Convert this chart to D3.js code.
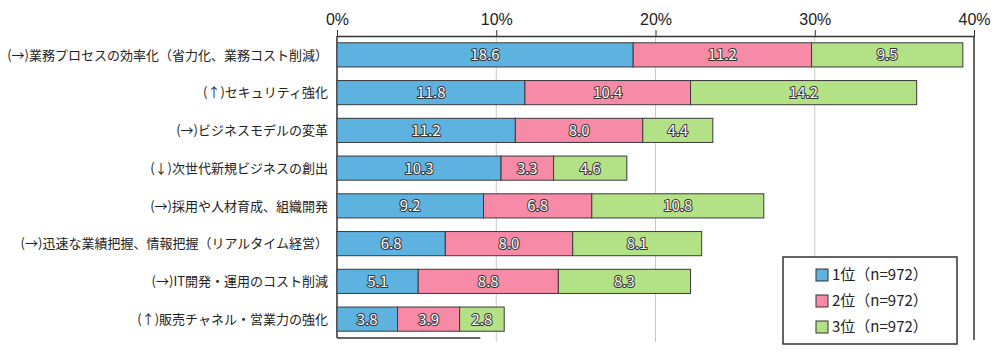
<!DOCTYPE html>
<html>
<head>
<meta charset="utf-8">
<script src="https://cdn.jsdelivr.net/npm/d3@7"></script>
<style>
  body { margin: 0; background: #fff; }
  svg { font-family: "Noto Sans CJK JP", "Noto Sans", sans-serif; }
</style>
</head>
<body>
<svg id="chart"></svg>
<script>
// data
const categories = [
  "(→)業務プロセスの効率化（省力化、業務コスト削減）",
  "(↑)セキュリティ強化",
  "(→)ビジネスモデルの変革",
  "(↓)次世代新規ビジネスの創出",
  "(→)採用や人材育成、組織開発",
  "(→)迅速な業績把握、情報把握（リアルタイム経営）",
  "(→)IT開発・運用のコスト削減",
  "(↑)販売チャネル・営業力の強化"
];
const rank1 = [18.6, 11.8, 11.2, 10.3, 9.2, 6.8, 5.1, 3.8];
const rank2 = [11.2, 10.4, 8.0, 3.3, 6.8, 8.0, 8.8, 3.9];
const rank3 = [9.5, 14.2, 4.4, 4.6, 10.8, 8.1, 8.3, 2.8];
const seriesNames = ["1位（n=972）", "2位（n=972）", "3位（n=972）"];
const tickValues = [0, 10, 20, 30, 40];

const colors = ["#5eb2e0", "#f78aa6", "#b3e186"];

const width = 1000, height = 354;
const margin = { top: 36, right: 26, bottom: 12, left: 337 };
const innerW = width - margin.left - margin.right;
const innerH = height - margin.top - margin.bottom;

const svg = d3.select("#chart")
  .attr("width", width)
  .attr("height", height);

const g = svg.append("g")
  .attr("transform", `translate(${margin.left},${margin.top})`);

const x = d3.scaleLinear().domain([0, 40]).range([0, innerW]);
const y = d3.scaleBand().domain(categories).range([0, 302]).paddingInner(0.36).paddingOuter(0.18);

// stacked data
const table = categories.map((c, i) => ({ cat: c, r1: rank1[i], r2: rank2[i], r3: rank3[i] }));
const stack = d3.stack().keys(["r1", "r2", "r3"])(table);

// gridlines
g.selectAll(".grid")
  .data([10, 20, 30])
  .enter().append("line")
  .attr("x1", d => x(d)).attr("x2", d => x(d))
  .attr("y1", 0).attr("y2", innerH)
  .attr("stroke", "#c8c8c8")
  .attr("stroke-width", 1);

// top axis
const axis = g.append("g")
  .call(d3.axisTop(x).tickValues(tickValues).tickFormat(d => d + "%").tickSize(6).tickSizeOuter(0));
axis.select(".domain").attr("stroke", "#333").attr("stroke-width", 1.5);
axis.selectAll(".tick line").attr("stroke", "#333");
axis.selectAll(".tick text")
  .attr("font-size", 16)
  .attr("fill", "#222")
  .attr("dy", "-0.15em");

// left and right border, short bottom line
g.append("line").attr("x1", 0).attr("x2", 0).attr("y1", 0).attr("y2", innerH - 4)
  .attr("stroke", "#333").attr("stroke-width", 1.5);
g.append("line").attr("x1", x(40)).attr("x2", x(40)).attr("y1", 0).attr("y2", innerH - 2)
  .attr("stroke", "#333").attr("stroke-width", 1.5);
g.append("line").attr("x1", 0).attr("x2", x(9)).attr("y1", innerH - 4).attr("y2", innerH - 4)
  .attr("stroke", "#333").attr("stroke-width", 1.5);

// bars
const layers = g.selectAll(".layer")
  .data(stack)
  .enter().append("g")
  .attr("fill", (d, i) => colors[i]);

layers.selectAll("rect")
  .data(d => d)
  .enter().append("rect")
  .attr("x", d => x(d[0]))
  .attr("y", d => y(d.data.cat))
  .attr("width", d => x(d[1]) - x(d[0]))
  .attr("height", y.bandwidth())
  .attr("stroke", "#3a3a3a")
  .attr("stroke-width", 1);

// value labels (white with dark outline)
layers.selectAll(".val")
  .data(d => d)
  .enter().append("text")
  .attr("x", d => (x(d[0]) + x(d[1])) / 2)
  .attr("y", d => y(d.data.cat) + y.bandwidth() / 2)
  .attr("dy", "0.36em")
  .attr("text-anchor", "middle")
  .attr("font-size", 15)
  .attr("fill", "#fff")
  .attr("stroke", "#333")
  .attr("stroke-width", 2)
  .attr("paint-order", "stroke")
  .attr("stroke-linejoin", "round")
  .text(d => (d[1] - d[0]).toFixed(1));

// category labels
g.selectAll(".cat")
  .data(categories)
  .enter().append("text")
  .attr("x", -9)
  .attr("y", d => y(d) + y.bandwidth() / 2)
  .attr("dy", "0.36em")
  .attr("text-anchor", "end")
  .attr("font-size", 13)
  .attr("fill", "#222")
  .text(d => d);

// legend
const legend = svg.append("g").attr("transform", "translate(783,257)");
legend.append("rect")
  .attr("width", 174).attr("height", 87)
  .attr("fill", "#fff").attr("stroke", "#333").attr("stroke-width", 1.5);
const items = legend.selectAll(".item")
  .data(seriesNames)
  .enter().append("g")
  .attr("transform", (d, i) => `translate(33,${18 + i * 26})`);
items.append("rect")
  .attr("x", 0).attr("y", -6).attr("width", 12).attr("height", 12)
  .attr("fill", (d, i) => colors[i])
  .attr("stroke", "#333").attr("stroke-width", 1);
items.append("text")
  .attr("x", 16).attr("dy", "0.36em")
  .attr("font-size", 15)
  .attr("fill", "#222")
  .text(d => d);
</script>
</body>
</html>
